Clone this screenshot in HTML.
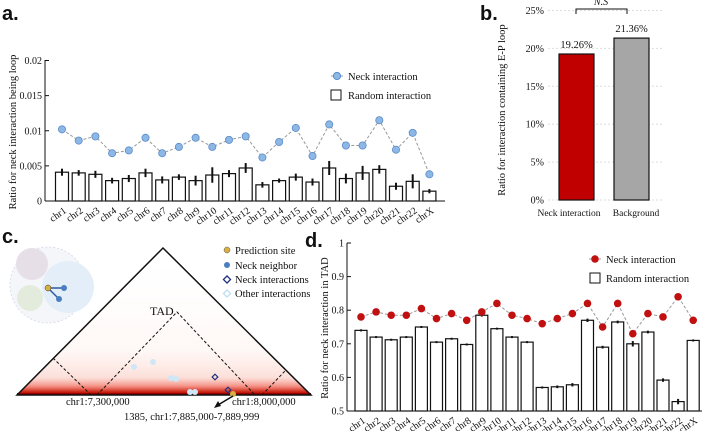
<!DOCTYPE html>
<html><head><meta charset="utf-8"><style>
body{margin:0;background:#fff;width:708px;height:431px;overflow:hidden}
svg text{font-family:"Liberation Serif",serif;fill:#111}
.pl{font-family:"Liberation Sans",sans-serif;font-weight:bold;font-size:20px}
</style></head><body>
<svg id="s" width="708" height="431" viewBox="0 0 708 431">
<defs>
<linearGradient id="hg" x1="0" y1="1" x2="0" y2="0">
<stop offset="0" stop-color="#a00000"/><stop offset="0.02" stop-color="#c82010"/><stop offset="0.06" stop-color="#f06050" stop-opacity="0.7"/><stop offset="0.12" stop-color="#f8b0a0" stop-opacity="0.4"/><stop offset="0.3" stop-color="#fde0d8" stop-opacity="0.25"/><stop offset="1" stop-color="#fff" stop-opacity="0"/></linearGradient>
</defs>
<text class="pl" x="2" y="20">a.</text>
<text class="pl" x="480" y="20">b.</text>
<text class="pl" x="2" y="243">c.</text>
<text class="pl" x="305" y="247">d.</text>
<g id="ga"></g>
<g id="gb"></g>
<g id="gd"></g>
<g>
<circle cx="48" cy="285" r="38" fill="#f4f6f9" stroke="#dde" stroke-dasharray="2,2"/>
<circle cx="32" cy="264" r="16" fill="#e6dfe8"/>
<circle cx="30" cy="298" r="13" fill="#e3ecdc"/>
<circle cx="68" cy="287" r="26" fill="#e4eef8"/>
<line x1="48" y1="288" x2="64" y2="288" stroke="#2c5aa0" stroke-width="1.5"/>
<line x1="48" y1="288" x2="59" y2="299" stroke="#2c5aa0" stroke-width="1.5"/>
<circle cx="48" cy="288" r="3" fill="#d8b040" stroke="#333" stroke-width="0.5"/>
<circle cx="64" cy="288" r="3" fill="#4a7ec0"/><circle cx="59" cy="299" r="3" fill="#4a7ec0"/>
<polygon points="17,395 163,248 311,395" fill="url(#hg)"/>
<rect x="17" y="393" width="294" height="2" fill="#900"/>
<polygon points="17,395 163,248 311,395" fill="none" stroke="#111" stroke-width="1.5"/>
<polyline points="53,358 91,395" fill="none" stroke="#111" stroke-dasharray="3,2"/>
<polyline points="97,395 177,312 255,395" fill="none" stroke="#111" stroke-dasharray="3,2"/>
<polyline points="262,395 285,371" fill="none" stroke="#111" stroke-dasharray="3,2"/>
<text x="150" y="315" font-size="12">TAD</text>
<g fill="#cfe6f6"><circle cx="153" cy="362" r="3"/><circle cx="134" cy="367" r="3"/><circle cx="171" cy="378" r="3"/><circle cx="176" cy="379" r="3"/><circle cx="190" cy="392" r="3"/><circle cx="195" cy="392" r="3"/></g>
<rect x="213" y="375" width="4" height="4" transform="rotate(45 215 377)" fill="none" stroke="#203080" stroke-width="1.2"/>
<rect x="226" y="388" width="4" height="4" transform="rotate(45 228 390)" fill="none" stroke="#203080" stroke-width="1.2"/>
<circle cx="233" cy="394" r="3" fill="#d8b040"/>
<line x1="233" y1="396" x2="218" y2="405" stroke="#111" stroke-width="1.5"/>
<polygon points="214,408 218,401 221,406" fill="#111"/>
<text x="66" y="405" font-size="10.5">chr1:7,300,000</text>
<text x="232" y="405" font-size="10.5">chr1:8,000,000</text>
<text x="124" y="420" font-size="10.5">1385, chr1:7,885,000-7,889,999</text>
<g>
<circle cx="227" cy="250" r="3" fill="#d8b040" stroke="#555" stroke-width="0.5"/><text x="235" y="254" font-size="10.5">Prediction site</text>
<circle cx="227" cy="265" r="3" fill="#4a7ec0"/><text x="235" y="269" font-size="10.5">Neck neighbor</text>
<rect x="224.5" y="277" width="5" height="5" transform="rotate(45 227 279.5)" fill="none" stroke="#203080" stroke-width="1.3"/><text x="235" y="283" font-size="10.5">Neck interactions</text>
<rect x="224.5" y="291" width="5" height="5" transform="rotate(45 227 293.5)" fill="none" stroke="#bfe0f4" stroke-width="1.3"/><text x="235" y="297" font-size="10.5">Other interactions</text>
</g>
</g>
</svg>
<script>
const cats=["chr1","chr2","chr3","chr4","chr5","chr6","chr7","chr8","chr9","chr10","chr11","chr12","chr13","chr14","chr15","chr16","chr17","chr18","chr19","chr20","chr21","chr22","chrX"];
const aNeck=[0.0102,0.0086,0.0092,0.0068,0.0072,0.0090,0.0068,0.0077,0.0090,0.0077,0.0087,0.0092,0.0062,0.0084,0.0104,0.0064,0.0109,0.0079,0.0079,0.0115,0.0073,0.0097,0.0038];
const aRand=[0.0041,0.0040,0.0038,0.0029,0.0032,0.0040,0.0030,0.0034,0.0029,0.0037,0.0039,0.0047,0.0023,0.0029,0.0034,0.0027,0.0047,0.0032,0.0040,0.0045,0.0021,0.0028,0.0014];
const aErr=[0.0005,0.0004,0.0005,0.0004,0.0005,0.0006,0.0005,0.0004,0.0007,0.0011,0.0005,0.0007,0.0004,0.0003,0.0005,0.0005,0.0010,0.0007,0.0010,0.0006,0.0005,0.0010,0.0003];
const aTicks=[0,0.005,0.01,0.015,0.02];
const aTickLabels=["0","0.005","0.01","0.015","0.02"];
const bCats=["Neck interaction","Background"];
const bVals=[19.26,21.36];
const bTicks=[0,5,10,15,20,25];
const dNeck=[0.78,0.795,0.785,0.785,0.805,0.775,0.79,0.77,0.795,0.82,0.785,0.775,0.76,0.775,0.79,0.82,0.75,0.82,0.73,0.79,0.78,0.84,0.77];
const dRand=[0.74,0.72,0.712,0.72,0.75,0.705,0.715,0.698,0.785,0.745,0.72,0.705,0.57,0.572,0.578,0.77,0.69,0.765,0.70,0.735,0.592,0.528,0.71];
const dErr=[0.003,0.003,0.003,0.003,0.003,0.003,0.003,0.003,0.004,0.003,0.003,0.003,0.003,0.004,0.005,0.005,0.004,0.004,0.008,0.004,0.005,0.008,0.003];
const dTicks=[0.5,0.6,0.7,0.8,0.9,1];
const dTickLabels=["0.5","0.6","0.7","0.8","0.9","1"];
const NS="http://www.w3.org/2000/svg";
function mk(p,t,at,txt){const e=document.createElementNS(NS,t);for(const k in at)e.setAttribute(k,at[k]);if(txt!==undefined)e.textContent=txt;p.appendChild(e);return e;}
// Panel A
(function(){
const g=document.getElementById('ga');
const y=v=>201-(v/0.02)*140.5, x=i=>62+i*16.7;
let e=mk(g,'line',{x1:45,y1:60,x2:45,y2:201,stroke:'#111'});

e=mk(g,'line',{x1:45,y1:201,x2:445,y2:201,stroke:'#111'});

aTicks.forEach((t,i)=>{mk(g,'line',{x1:45,x2:49,y1:y(t),y2:y(t),stroke:'#111'});
 e=mk(g,'text',{x:42,y:y(t)+3.5,'font-size':10,'text-anchor':'end'},aTickLabels[i]);
 });
e=mk(g,'text',{transform:'translate(16,132) rotate(-90)','font-size':10.5,'text-anchor':'middle'},'Ratio for neck interaction being loop');

cats.forEach((c,i)=>{
 e=mk(g,'rect',{x:x(i)-6.5,y:y(aRand[i]),width:13,height:201-y(aRand[i]),fill:'#fff',stroke:'#111','stroke-width':1.2});
 
 mk(g,'line',{x1:x(i),x2:x(i),y1:y(aRand[i]+aErr[i]),y2:y(aRand[i]-aErr[i]),stroke:'#111','stroke-width':2});
 e=mk(g,'text',{transform:`translate(${x(i)+5},${212}) rotate(-35)`,'font-size':10,'text-anchor':'end'},c);
 
});
e=mk(g,'polyline',{points:aNeck.map((v,i)=>x(i)+','+y(v)).join(' '),fill:'none',stroke:'#999','stroke-dasharray':'3,2'});

aNeck.forEach((v,i)=>{e=mk(g,'circle',{cx:x(i),cy:y(v),r:3.6,fill:'#8db8e6',stroke:'#5b8cc8','stroke-width':0.8});
 });
mk(g,'line',{x1:331,x2:343,y1:76,y2:76,stroke:'#999','stroke-dasharray':'3,2'});
mk(g,'circle',{cx:337,cy:76,r:3.6,fill:'#8db8e6',stroke:'#5b8cc8'});
mk(g,'text',{x:348,y:80,'font-size':10.5},'Neck interaction');
mk(g,'rect',{x:331,y:90,width:10,height:10,fill:'#fff',stroke:'#111'});
mk(g,'text',{x:348,y:99,'font-size':10.5},'Random interaction');
})();
// Panel B
(function(){
const g=document.getElementById('gb');
const y=v=>200-v/25*189.5; const bx=[559,614], bw=35;
bTicks.forEach(t=>{let e=mk(g,'line',{x1:548,x2:662,y1:y(t),y2:y(t),stroke:'#ddd','stroke-dasharray':'2,2'});
 e=mk(g,'text',{x:544,y:y(t)+3.5,'font-size':10,'text-anchor':'end'},t+'%');
 });
let e=mk(g,'text',{transform:'translate(505,110) rotate(-90)','font-size':10.5,'text-anchor':'middle'},'Ratio for interaction containing E-P loop');

const cols=['#c00000','#a6a6a6'];
const lx=[569,636];
bVals.forEach((v,i)=>{
 e=mk(g,'rect',{x:bx[i],y:y(v),width:bw,height:200-y(v),fill:cols[i],stroke:'#111','stroke-width':1.2});
 
 e=mk(g,'text',{x:bx[i]+bw/2,y:y(v)-6,'font-size':10.5,'text-anchor':'middle'},v.toFixed(2)+'%');
 
 e=mk(g,'text',{x:lx[i],y:216,'font-size':9.5,'text-anchor':'middle'},bCats[i]);
 
});
mk(g,'polyline',{points:'576,14 576,9 627,9 627,14',fill:'none',stroke:'#111'});
e=mk(g,'text',{x:601,y:5,'font-size':10,'font-style':'italic','text-anchor':'middle'},'N.S');

})();
// Panel D
(function(){
const g=document.getElementById('gd');
const y=v=>411-(v-0.5)/0.5*168, x=i=>361+i*15.1;
let e=mk(g,'line',{x1:347,y1:243,x2:347,y2:411,stroke:'#111'});

e=mk(g,'line',{x1:347,y1:411,x2:702,y2:411,stroke:'#111'});

dTicks.forEach((t,i)=>{mk(g,'line',{x1:347,x2:351,y1:y(t),y2:y(t),stroke:'#111'});
 e=mk(g,'text',{x:344,y:y(t)+3.5,'font-size':10,'text-anchor':'end'},dTickLabels[i]);
 });
e=mk(g,'text',{transform:'translate(328,328) rotate(-90)','font-size':10.5,'text-anchor':'middle'},'Ratio for neck interaction in TAD');

cats.forEach((c,i)=>{
 e=mk(g,'rect',{x:x(i)-6,y:y(dRand[i]),width:12,height:411-y(dRand[i]),fill:'#fff',stroke:'#111','stroke-width':1.2});
 
 mk(g,'line',{x1:x(i),x2:x(i),y1:y(dRand[i]+dErr[i]),y2:y(dRand[i]-dErr[i]),stroke:'#111','stroke-width':2});
 e=mk(g,'text',{transform:`translate(${x(i)+5},${422}) rotate(-35)`,'font-size':10,'text-anchor':'end'},c);
 
});
e=mk(g,'polyline',{points:dNeck.map((v,i)=>x(i)+','+y(v)).join(' '),fill:'none',stroke:'#999','stroke-dasharray':'3,2'});

dNeck.forEach((v,i)=>{e=mk(g,'circle',{cx:x(i),cy:y(v),r:3.8,fill:'#c01010'});
 });
mk(g,'line',{x1:589,x2:601,y1:259,y2:259,stroke:'#999','stroke-dasharray':'3,2'});
mk(g,'circle',{cx:595,cy:259,r:3.8,fill:'#c01010'});
mk(g,'text',{x:606,y:263,'font-size':10.5},'Neck interaction');
mk(g,'rect',{x:590,y:273,width:10,height:10,fill:'#fff',stroke:'#111'});
mk(g,'text',{x:606,y:282,'font-size':10.5},'Random interaction');
})();
</script>
</body></html>
